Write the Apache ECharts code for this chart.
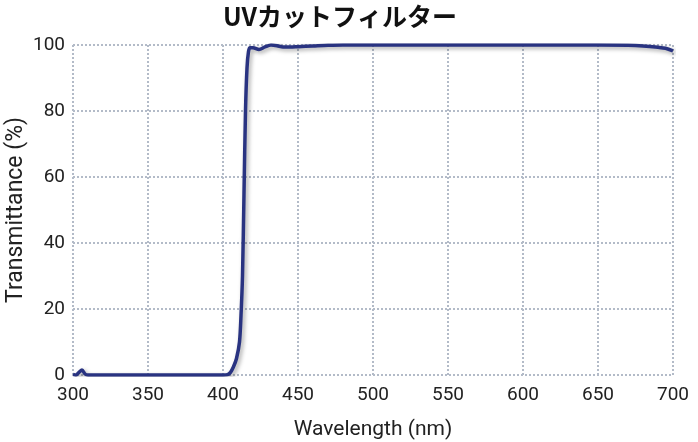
<!DOCTYPE html>
<html><head><meta charset="utf-8">
<script src="https://cdn.jsdelivr.net/npm/echarts@6/dist/echarts.min.js"></script>
<style>html,body{margin:0;padding:0;background:#fff}#c{width:698px;height:442px}</style>
</head><body><div id="c"></div>
<script>
const wavelengths = [300,302,304,306,308,310,320,340,360,380,400,403,405,407,409,411,412,413,414,415,416,417,418,420,424,428,432,436,440,445,450,460,470,480,500,550,600,650,670,680,690,695,700];
const transmittance = [0.2,0,0.8,1.5,0.3,0,0,0,0,0,0,0.1,0.8,2.5,5,10,18,30,55,80,93,98,99.2,99.2,98.6,99.4,100,99.8,99.4,99.4,99.5,99.7,99.9,100,100,100,100,100,99.9,99.7,99.3,99,98.2];
const xTicks = [300,350,400,450,500,550,600,650,700];
const yTicks = [0,20,40,60,80,100];
const titleText = 'UVカットフィルター';

const data = wavelengths.map((w,i)=>[w, transmittance[i]]);
const chart = echarts.init(document.getElementById('c'));
const gridStyle = {show:true, lineStyle:{color:'#b3bbc8', type:[2,2], width:2}};
chart.setOption({
  animation:false,
  title:{text:titleText, left:218, top:-1, textStyle:{fontFamily:'Noto Sans CJK JP', fontWeight:'bold', fontSize:25, color:'#111'}},
  grid:{left:73, right:25, top:45, bottom:67, containLabel:false, outerBoundsMode:'none'},
  xAxis:{type:'value', min:xTicks[0], max:xTicks[xTicks.length-1], interval:50,
    name:'Wavelength (nm)', nameLocation:'middle', nameGap:44, nameMoveOverlap:false,
    nameTextStyle:{fontFamily:'Roboto', fontSize:21, color:'#222'},
    axisLine:{show:false}, axisTick:{show:false},
    axisLabel:{fontFamily:'Roboto', fontSize:19, color:'#222', margin:11},
    splitLine:gridStyle},
  yAxis:{type:'value', min:yTicks[0], max:yTicks[yTicks.length-1], interval:20,
    name:'Transmittance (%)', nameLocation:'middle', nameGap:45, nameMoveOverlap:false,
    nameTextStyle:{fontFamily:'Roboto', fontSize:23, color:'#222'},
    axisLine:{show:false}, axisTick:{show:false},
    axisLabel:{fontFamily:'Roboto', fontSize:19, color:'#222', margin:8},
    splitLine:gridStyle},
  series:[{type:'line', data:data, smooth:0.3, showSymbol:false,
    lineStyle:{color:'#293381', width:3.5, shadowColor:'rgba(0,0,0,0.35)', shadowBlur:4, shadowOffsetX:2, shadowOffsetY:2}}]
});
</script></body></html>
